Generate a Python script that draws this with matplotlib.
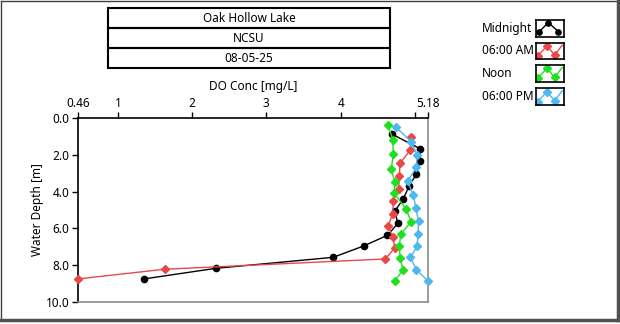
import numpy as np
import matplotlib
matplotlib.use("Agg")
import matplotlib.pyplot as plt
from matplotlib.patches import Rectangle
from matplotlib.lines import Line2D

plt.rcParams["font.family"] = ["Noto Sans", "DejaVu Sans"]

# Dissolved oxygen profiles (depth in m, DO in mg/L)
midnight_depth = [0.86, 1.66, 2.33, 3.04, 3.71, 4.42, 5.05, 5.73, 6.38, 6.96, 7.58, 8.18, 8.76]
midnight_do = [4.69, 5.07, 5.07, 5.02, 4.92, 4.84, 4.73, 4.77, 4.63, 4.31, 3.90, 2.32, 1.35]

am_depth = [1.00, 1.73, 2.45, 3.13, 3.86, 4.49, 5.22, 5.86, 6.46, 7.06, 7.67, 8.23, 8.76]
am_do = [4.95, 4.94, 4.80, 4.79, 4.78, 4.71, 4.70, 4.64, 4.70, 4.73, 4.60, 1.63, 0.46]

noon_depth = [0.35, 1.17, 1.96, 2.78, 3.46, 4.09, 4.95, 5.64, 6.31, 6.95, 7.60, 8.26, 8.87]
noon_do = [4.64, 4.70, 4.71, 4.68, 4.73, 4.72, 4.88, 4.95, 4.81, 4.79, 4.80, 4.84, 4.73]

pm_depth = [0.46, 1.28, 2.00, 2.67, 3.44, 4.17, 4.89, 5.62, 6.31, 6.98, 7.58, 8.26, 8.89]
pm_do = [4.74, 4.95, 5.03, 5.02, 4.90, 4.98, 5.01, 5.05, 5.04, 5.03, 4.94, 5.02, 5.18]

series_names = ["Midnight", "06:00 AM", "Noon", "06:00 PM"]
series_colors = ["#000000", "#e84848", "#1fe01f", "#4db8ee"]
series_markers = ["o", "D", "D", "D"]

header_lines = ["Oak Hollow Lake", "NCSU", "08-05-25"]
x_ticks = [0.46, 1, 2, 3, 4, 5, 5.18]
x_tick_labels = ["0.46", "1", "2", "3", "4", "", "5.18"]
y_ticks = [0, 2, 4, 6, 8, 10]

W, H = 620, 324
fig = plt.figure(figsize=(W / 100, H / 100), dpi=100)


def fx(px):
    return px / W


def fy(py):
    return 1 - py / H


# main profile axes
ax = fig.add_axes([fx(77.7), fy(301.7), fx(428.3) - fx(77.7), fy(118.3) - fy(301.7)])
profiles = [(midnight_do, midnight_depth), (am_do, am_depth),
            (noon_do, noon_depth), (pm_do, pm_depth)]
for (x, y), c, m in zip(profiles, series_colors, series_markers):
    ms = 4.5 if m == "o" else 4.2
    ax.plot(x, y, color=c, lw=1.0, marker=m, ms=ms, mec=c, mfc=c, clip_on=False, zorder=3)

ax.set_xlim(0.46, 5.18)
ax.set_ylim(10, 0)
ax.xaxis.tick_top()
ax.xaxis.set_label_position("top")
ax.set_xticks(x_ticks)
ax.set_xticklabels(x_tick_labels)
ax.set_yticks(y_ticks)
ax.set_yticklabels([f"{v:.1f}" for v in y_ticks])
ax.tick_params(direction="out", length=4, width=1, labelsize=8.5, pad=2)
ax.set_xlabel("DO Conc [mg/L]", fontsize=8.5, labelpad=5)
ax.set_ylabel("Water Depth [m]", fontsize=8.5, labelpad=1)
for side in ("top", "left"):
    ax.spines[side].set_color("black")
    ax.spines[side].set_linewidth(1.2)
for side in ("right", "bottom"):
    ax.spines[side].set_color("#8c8c8c")
    ax.spines[side].set_linewidth(1.2)

# header table
box_l, box_r = 108.3, 390
row_edges = [8.3, 28.3, 48.3, 67.7]
for i, txt in enumerate(header_lines):
    top, bot = row_edges[i], row_edges[i + 1]
    fig.add_artist(Rectangle((fx(box_l), fy(bot)), fx(box_r) - fx(box_l), fy(top) - fy(bot),
                             transform=fig.transFigure, fill=False, ec="black", lw=1.5))
    fig.text(fx((box_l + box_r) / 2), fy((top + bot) / 2), txt, ha="center", va="center",
             fontsize=8.5)

# legend with small swatch boxes
label_x = 482
row_y = [28.3, 51.0, 73.3, 96.7]
icon_x0, icon_w, icon_h = 536, 27.5, 16.5
for name, c, m, yc in zip(series_names, series_colors, series_markers, row_y):
    fig.text(fx(label_x), fy(yc), name, ha="left", va="center", fontsize=8.5)
    iax = fig.add_axes([fx(icon_x0), fy(yc + icon_h / 2), fx(icon_w), icon_h / H])
    iax.set_xlim(0, 1)
    iax.set_ylim(0, 1)
    iax.set_xticks([])
    iax.set_yticks([])
    for s in iax.spines.values():
        s.set_linewidth(1.2)
    if m == "o":
        px = [0.12, 0.45, 0.81]
        py = [0.3, 0.85, 0.3]
        iax.plot(px, py, color=c, lw=1.0, marker="o", ms=3.8, mfc=c, mec=c)
    else:
        px = [0.06, 0.4, 0.68, 0.95]
        py = [0.2, 0.8, 0.25, 0.85]
        iax.plot(px, py, color=c, lw=1.0)
        iax.plot(px[:3], py[:3], ls="none", marker="D", ms=3.6, mfc=c, mec=c)

# outer frame
fig.add_artist(Line2D([fx(0.5), fx(0.5)], [fy(0.5), fy(320)], transform=fig.transFigure,
                      color="#404040", lw=1))
fig.add_artist(Line2D([fx(0.5), fx(618)], [fy(0.5), fy(0.5)], transform=fig.transFigure,
                      color="#404040", lw=1))
fig.add_artist(Line2D([fx(618), fx(618)], [fy(0.5), fy(320)], transform=fig.transFigure,
                      color="#505050", lw=2.5))
fig.add_artist(Line2D([fx(0.5), fx(618)], [fy(320), fy(320)], transform=fig.transFigure,
                      color="#505050", lw=2.5))

fig.savefig("out.png", dpi=100)
